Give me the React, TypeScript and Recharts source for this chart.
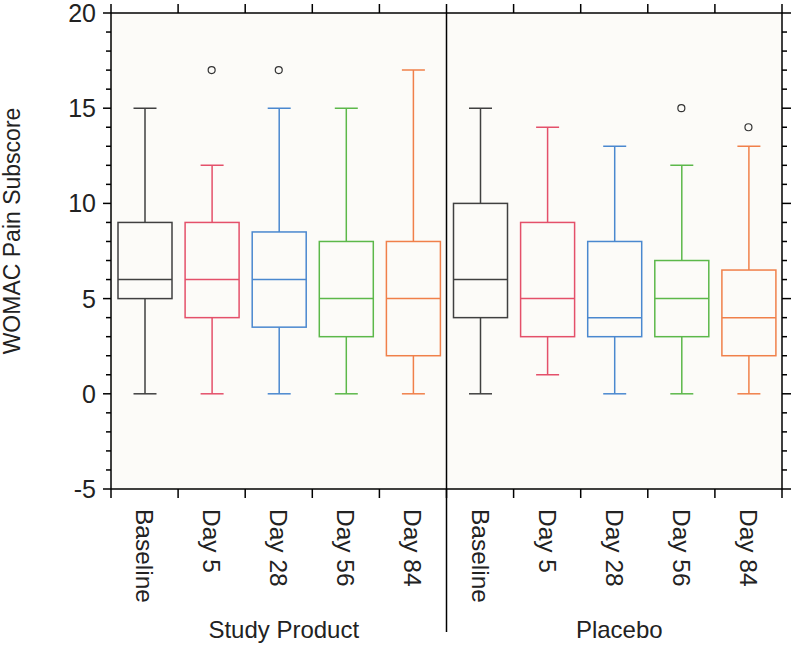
import React from "react";
import {
  ComposedChart, Bar, Scatter, XAxis, YAxis, CartesianGrid, ReferenceLine,
} from "recharts";

// ── data ──────────────────────────────────────────────────────────────────────
const categories = ["Baseline", "Day 5", "Day 28", "Day 56", "Day 84", "Baseline", "Day 5", "Day 28", "Day 56", "Day 84"];
const groups = ["Study Product", "Placebo"];
const mins = [0, 0, 0, 0, 0, 0, 1, 0, 0, 0];
const q1s = [5, 4, 3.5, 3, 2, 4, 3, 3, 3, 2];
const medians = [6, 6, 6, 5, 5, 6, 5, 4, 5, 4];
const q3s = [9, 9, 8.5, 8, 8, 10, 9, 8, 7, 6.5];
const maxs = [15, 12, 15, 15, 17, 15, 14, 13, 12, 13];
const outliers: (number | null)[] = [null, 17, 17, null, null, null, null, null, 15, 14];
const colors = ["#404040", "#e4506a", "#4a88cf", "#5cb84a", "#f0804a", "#404040", "#e4506a", "#4a88cf", "#5cb84a", "#f0804a"];
const yTicks = [-5, -4, -3, -2, -1, 0, 1, 2, 3, 4, 5, 6, 7, 8, 9, 10, 11, 12, 13, 14, 15, 16, 17, 18, 19, 20];
const edgeTicks = [0, 1, 2, 3, 4, 5, 6, 7, 8, 9, 10];

const rows = categories.map((name, i) => ({
  key: `c${i}`,
  pos: i + 0.5,
  range: [mins[i], maxs[i]],
  min: mins[i], q1: q1s[i], median: medians[i], q3: q3s[i], max: maxs[i],
  color: colors[i],
}));
const outlierRows = rows
  .map((r, i) => ({ pos: r.pos, outlier: outliers[i] }))
  .filter((r) => r.outlier !== null);

const FONT = "'Liberation Sans', Arial, Helvetica, sans-serif";
const AXIS = { stroke: "#000", strokeWidth: 1.5 };

// ── box shape drawn from the range bar ────────────────────────────────────────
function BoxShape(props: any) {
  const { x, y, width, height, payload } = props;
  const { min, q1, median, q3, max, color } = payload;
  const toY = (v: number) => y + (height * (max - v)) / (max - min);
  const cx = x + width / 2;
  const cap = 11.5;
  return (
    <g stroke={color} strokeWidth={1.5} fill="none">
      <line x1={cx} x2={cx} y1={toY(max)} y2={toY(q3)} />
      <line x1={cx} x2={cx} y1={toY(q1)} y2={toY(min)} />
      <line x1={cx - cap} x2={cx + cap} y1={toY(max)} y2={toY(max)} />
      <line x1={cx - cap} x2={cx + cap} y1={toY(min)} y2={toY(min)} />
      <rect x={x} y={toY(q3)} width={width} height={toY(q1) - toY(q3)} />
      <line x1={x} x2={x + width} y1={toY(median)} y2={toY(median)} />
    </g>
  );
}

// ── ticks ─────────────────────────────────────────────────────────────────────
function BottomTick(props: any) {
  const { x, y, payload } = props;
  const v = payload.value as number;
  if (Number.isInteger(v)) {
    return (
      <g>
        <line x1={x} x2={x} y1={y} y2={y + 9} stroke="#000" strokeWidth={1.5} />
        {v === 5 && <line x1={x} x2={x} y1={y} y2={y + 143} stroke="#000" strokeWidth={1.5} />}
      </g>
    );
  }
  const idx = Math.floor(v);
  const ly = y + 20;
  return (
    <g>
      <text x={x} y={ly} transform={`rotate(90, ${x}, ${ly})`} textAnchor="start" dominantBaseline="central"
        fontSize={24.5} fontFamily={FONT} fill="#222">{categories[idx]}</text>
      {(idx === 2 || idx === 7) && (
        <text x={x + 5} y={y + 149} textAnchor="middle" fontSize={24} fontFamily={FONT} fill="#222">
          {groups[idx === 2 ? 0 : 1]}
        </text>
      )}
    </g>
  );
}

function TopTick(props: any) {
  const { x, y } = props;
  return <line x1={x} x2={x} y1={y} y2={y - 9} stroke="#000" strokeWidth={1.5} />;
}

function LeftTick(props: any) {
  const { x, y, payload } = props;
  const v = payload.value as number;
  const major = v % 5 === 0;
  return (
    <g>
      <line x1={x} x2={x - (major ? 8 : 5)} y1={y} y2={y} stroke="#000" strokeWidth={1.5} />
      {major && (
        <text x={x - 15} y={y} textAnchor="end" dominantBaseline="central" fontSize={25} fontFamily={FONT} fill="#222">{v}</text>
      )}
    </g>
  );
}

function RightTick(props: any) {
  const { x, y, payload } = props;
  const major = (payload.value as number) % 5 === 0;
  return <line x1={x} x2={x + (major ? 9 : 5)} y1={y} y2={y} stroke="#000" strokeWidth={1.5} />;
}

function YLabel(props: any) {
  const { viewBox } = props;
  const cx = viewBox.x + 12;
  const cy = 231;
  return (
    <text x={cx} y={cy} transform={`rotate(-90, ${cx}, ${cy})`} textAnchor="middle" dominantBaseline="central"
      fontSize={23} fontFamily={FONT} fill="#222">WOMAC Pain Subscore</text>
  );
}

export default function App() {
  return (
    <div style={{ position: "absolute", left: 0, top: 0, width: 792, height: 648, background: "#fff" }}>
      <ComposedChart width={792} height={648} data={rows} margin={{ top: 0, right: 0, bottom: 0, left: 0 }}>
        <XAxis xAxisId="c" dataKey="key" type="category" hide />
        <XAxis xAxisId="b" dataKey="pos" type="number" orientation="bottom" domain={[0, 10]} allowDataOverflow
          ticks={[0, 0.5, 1, 1.5, 2, 2.5, 3, 3.5, 4, 4.5, 5, 5.5, 6, 6.5, 7, 7.5, 8, 8.5, 9, 9.5, 10]}
          interval={0} height={159} tickSize={0} tickMargin={0} tickLine={false} axisLine={AXIS} tick={BottomTick} />
        <XAxis xAxisId="t" dataKey="pos" type="number" orientation="top" domain={[0, 10]} allowDataOverflow
          ticks={edgeTicks} interval={0} height={13} tickSize={0} tickMargin={0} tickLine={false} axisLine={AXIS} tick={TopTick} />
        <YAxis yAxisId="l" type="number" domain={[-5, 20]} allowDataOverflow ticks={yTicks} interval={0} width={111}
          tickSize={0} tickMargin={0} tickLine={false} axisLine={AXIS} tick={LeftTick}
          label={{ value: "WOMAC Pain Subscore", content: YLabel }} />
        <YAxis yAxisId="r" type="number" orientation="right" domain={[-5, 20]} allowDataOverflow ticks={yTicks} interval={0}
          width={10} tickSize={0} tickMargin={0} tickLine={false} axisLine={AXIS} tick={RightTick} />
        <CartesianGrid xAxisId="b" yAxisId="l" horizontal={false} vertical={false} fill="#fcfbf8" />
        <ReferenceLine xAxisId="b" yAxisId="l" x={5} stroke="#000" strokeWidth={1.5} />
        <Bar xAxisId="c" yAxisId="l" dataKey="range" barSize={54} shape={BoxShape} isAnimationActive={false} />
        <Scatter xAxisId="b" yAxisId="l" data={outlierRows} dataKey="outlier" isAnimationActive={false}
          shape={(p: any) => <circle cx={p.cx} cy={p.cy} r={3.5} fill="none" stroke="#333" strokeWidth={1.2} />} />
      </ComposedChart>
    </div>
  );
}
